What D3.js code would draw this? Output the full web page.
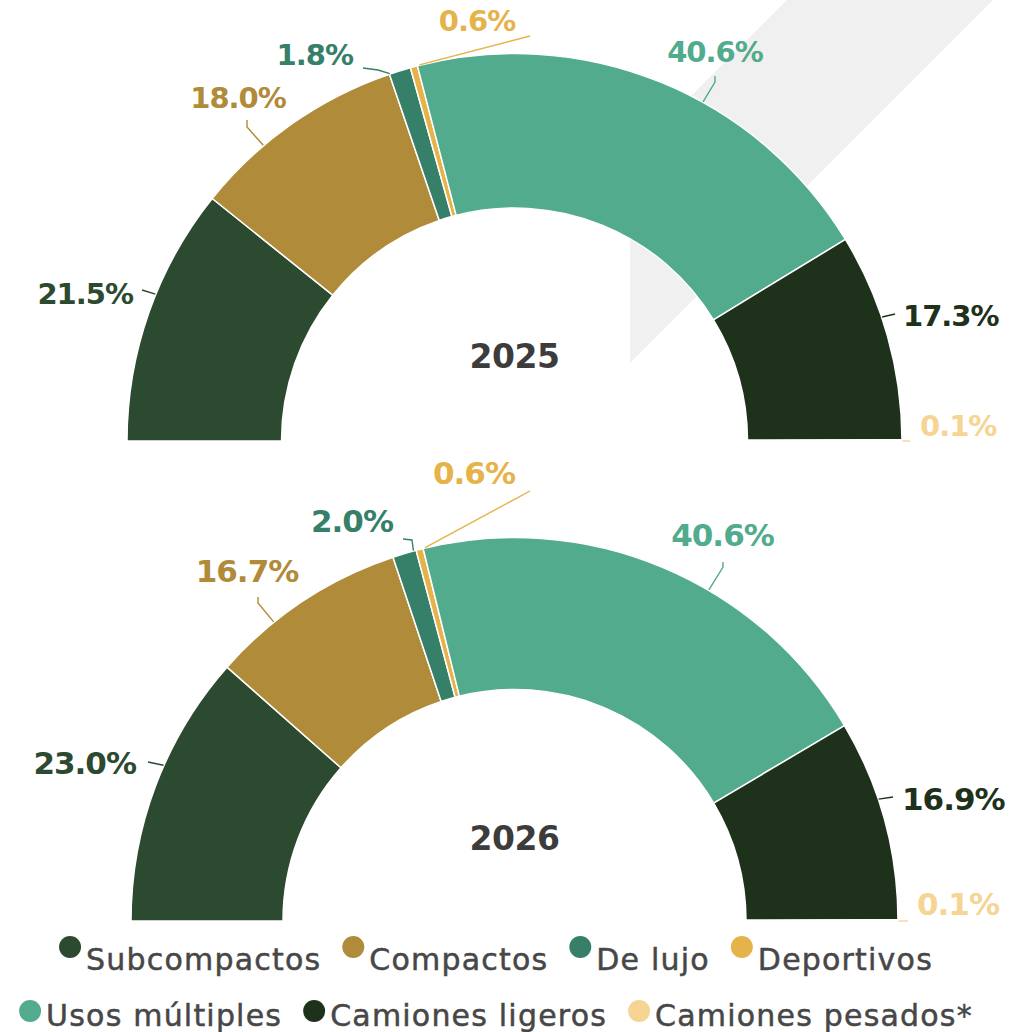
<!DOCTYPE html>
<html><head><meta charset="utf-8">
<script src="https://cdn.jsdelivr.net/npm/d3@7"></script>
<style>html,body{margin:0;padding:0;background:#fff;}svg{display:block;}</style>
</head><body>
<svg id="chart" width="1013" height="1032"></svg>
<script>
// ---- data ----
const categories = ["Subcompactos","Compactos","De lujo","Deportivos","Usos múltiples","Camiones ligeros","Camiones pesados*"];
const years = ["2025","2026"];
const values2025 = [21.5,18.0,1.8,0.6,40.6,17.3,0.1];
const values2026 = [23.0,16.7,2.0,0.6,40.6,16.9,0.1];
const colors = ["#2b4a2f","#b08b3a","#367f68","#e6b24a","#51ab8c","#1d311b","#f6d494"];

// ---- layout (annotation placement relative to each chart centre) ----
const charts = [
  {year: years[0], values: values2025, cx: 514.5, cy: 441, R: 387.5, r: 233, fs: 29, yearY: -73,
   labels: [
     {x:-381.5,y:-137,a:"end",   pts:[[-372.5,-151],[-359.5,-147]]},
     {x:-276.5,y:-333,a:"middle",pts:[[-267.5,-321],[-267.5,-314],[-251.5,-296]]},
     {x:-161.5,y:-376,a:"end",   pts:[[-151.5,-373],[-136.5,-371],[-124.5,-367]]},
     {x:-37.5, y:-410,a:"middle",pts:[[15.5,-405],[-94.5,-374]]},
     {x:200.5, y:-379,a:"middle",pts:[[200.5,-365],[200.5,-359],[188.5,-339]]},
     {x:388.5, y:-115,a:"start", pts:[[380.5,-127],[370.5,-125]]},
     {x:405.5, y:-5,  a:"start", pts:[[395.5,0],[388.5,0]]}
   ]},
  {year: years[1], values: values2026, cx: 514.5, cy: 921, R: 383.5, r: 231.5, fs: 31, yearY: -71,
   labels: [
     {x:-378.5,y:-147,a:"end",   pts:[[-366.5,-159],[-351.5,-156]]},
     {x:-267.5,y:-339,a:"middle",pts:[[-256.5,-324],[-256.5,-318],[-241.5,-300]]},
     {x:-121.5,y:-389,a:"end",   pts:[[-111.5,-382],[-102.5,-381],[-101.5,-372]]},
     {x:-40.5, y:-437,a:"middle",pts:[[15.5,-430],[-89.5,-374]]},
     {x:208,   y:-375,a:"middle",pts:[[208.5,-359],[208.5,-354],[195.5,-333]]},
     {x:387.5, y:-111,a:"start", pts:[[378.5,-124],[367.5,-123]]},
     {x:402.5, y:-6,  a:"start", pts:[[393.5,0],[385.5,0]]}
   ]}
];

const svg = d3.select("#chart");
const color = d3.scaleOrdinal().domain(categories).range(colors);
const fmt = v => d3.format(".1f")(v) + "%";

// background decorative band
svg.append("polygon")
  .attr("points", "787,0 993,0 630,363 630,157")
  .attr("fill", "#f0f0f0");

const pie = d3.pie().sort(null).value(d => d.v)
  .startAngle(-Math.PI/2).endAngle(Math.PI/2);

charts.forEach(ch => {
  const g = svg.append("g").attr("transform", `translate(${ch.cx},${ch.cy})`);
  const data = categories.map((c,i) => ({c, v: ch.values[i]}));
  const arcs = pie(data);
  const arc = d3.arc().innerRadius(ch.r).outerRadius(ch.R);
  g.selectAll("path.slice").data(arcs).join("path")
    .attr("class","slice")
    .attr("d", arc)
    .attr("fill", d => color(d.data.c))
    .attr("stroke", "#fff").attr("stroke-width", 1.5).attr("stroke-linejoin","round");

  // leaders
  g.selectAll("path.leader").data(arcs).join("path")
    .attr("class","leader")
    .attr("d", (d,i) => {
      const pts = ch.labels[i].pts.slice();
      const last = pts[pts.length-1];
      const ang = Math.atan2(last[1], last[0]);
      pts[pts.length-1] = [Math.cos(ang)*(ch.R+0.5), Math.sin(ang)*(ch.R+0.5)];
      return d3.line()(pts);
    })
    .attr("fill","none")
    .attr("stroke", d => color(d.data.c))
    .attr("stroke-width", 1.4);

  g.selectAll("text.lbl").data(arcs).join("text")
    .attr("class","lbl")
    .attr("x", (d,i) => ch.labels[i].x)
    .attr("y", (d,i) => ch.labels[i].y)
    .attr("text-anchor", (d,i) => ch.labels[i].a)
    .attr("fill", d => color(d.data.c))
    .style("font-family", "'DejaVu Sans', sans-serif")
    .style("font-weight", 700)
    .style("font-size", ch.fs + "px")
    .style("letter-spacing", "-1px")
    .text(d => fmt(d.data.v));

  g.append("text")
    .attr("x", 0).attr("y", ch.yearY)
    .attr("text-anchor","middle")
    .attr("fill","#3c3c3c")
    .style("font-family", "'DejaVu Sans', sans-serif")
    .style("font-weight", 700)
    .style("font-size", "33px")
    .style("letter-spacing", "-0.5px")
    .text(ch.year);
});

// legend
const legendRows = [[0,1,2,3],[4,5,6]];
const rowBase = [970, 1026];
const rowDot = [-23, -15];
const legendCenter = 496;
const dotR = 11, textGap = 16, itemGap = 32;
legendRows.forEach((row, ri) => {
  const lg = svg.append("g");
  let x = 0;
  const items = [];
  row.forEach((ci) => {
    const it = lg.append("g");
    it.append("circle").attr("cx", 0).attr("cy", rowBase[ri] + rowDot[ri]).attr("r", dotR)
      .attr("fill", color(categories[ci]));
    const t = it.append("text").attr("x", textGap).attr("y", rowBase[ri])
      .attr("fill","#474747")
      .attr("stroke","#474747").attr("stroke-width", 0.5)
      .style("font-family", "'DejaVu Sans', sans-serif")
      .style("font-size", "30px")
      .style("letter-spacing", "1.2px")
      .text(categories[ci]);
    const w = t.node().getComputedTextLength();
    items.push({it, x});
    x += textGap + w + itemGap;
  });
  const total = x - itemGap + dotR;
  const start = legendCenter - total/2 + dotR;
  items.forEach(o => o.it.attr("transform", `translate(${start + o.x},0)`));
});
</script>
</body></html>
